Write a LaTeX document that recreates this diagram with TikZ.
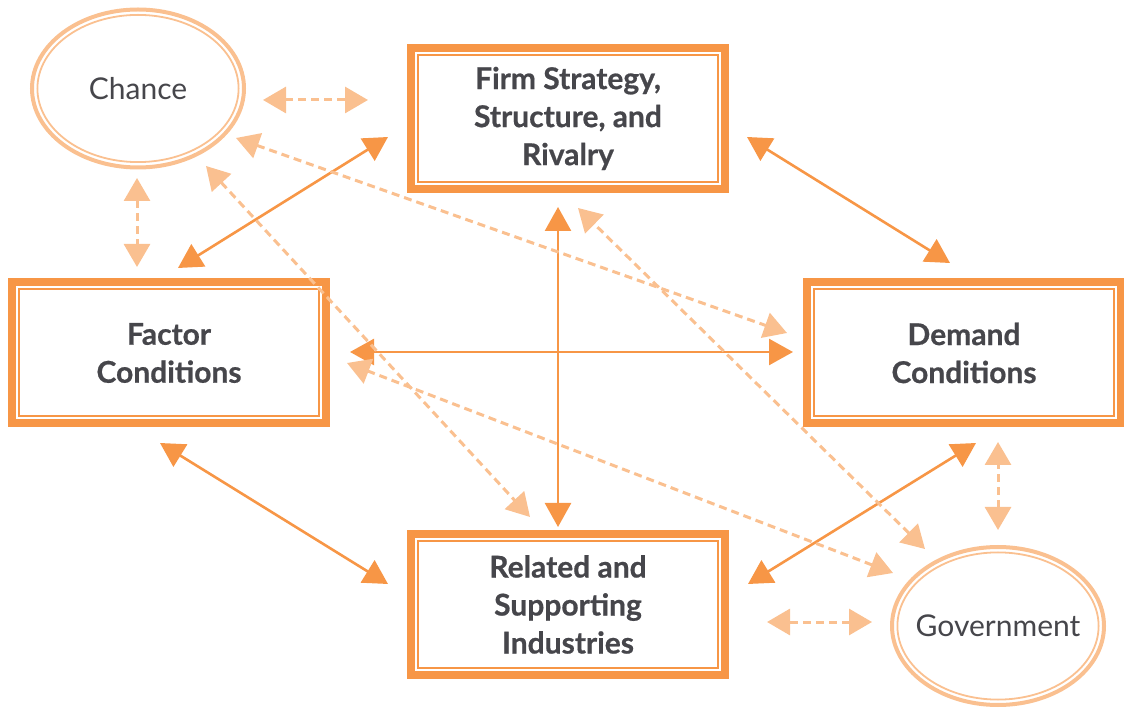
\documentclass[tikz,border=0pt]{standalone}
\usepackage{fontspec}
\setmainfont{Lato}
\newfontfamily\forcefont[BoldFeatures={FakeBold=0.6}]{Lato}
\usetikzlibrary{arrows.meta,shapes.geometric}
\definecolor{porange}{HTML}{F79646}
\definecolor{plight}{HTML}{FAC090}
\definecolor{ptext}{HTML}{46464B}
\tikzset{
	force/.style={draw=porange, line width=4pt, fill=white, minimum width=157pt, minimum height=70.5pt, align=center, text=ptext, font=\forcefont\bfseries\fontsize{15}{19}\selectfont},
	outside/.style={text=ptext, font=\fontsize{15}{17}\selectfont},
	link/.style={draw=porange, line width=1.3pt, {Triangle[length=12pt,width=13pt]}-{Triangle[length=12pt,width=13pt]}},
	weak/.style={draw=plight, line width=1.5pt, dash pattern=on 4pt off 2.5pt, {Triangle[length=11.5pt,width=13pt]}-{Triangle[length=11.5pt,width=13pt]}}
}
\begin{document}
\begin{tikzpicture}[x=0.5pt,y=-0.5pt]
		\useasboundingbox (0,0) rectangle (1124,710);
		\node[force] (firm) at (568,118.5) {Firm Strategy,\\Structure, and\\Rivalry};
		\node[force] (factor) at (169,353) {Factor\\Conditions};
		\node[force] (demand) at (964,353) {Demand\\Conditions};
		\node[force] (related) at (568,604.5) {Related and\\Supporting\\Industries};
		\node[outside] (chance) at (138,88.5) {Chance};
		\node[outside] (gov) at (998,626) {Government};
		\foreach \n in {firm,factor,demand,related}
			\draw[porange, line width=1pt] ([shift={(5.5pt,5.5pt)}]\n.south west) rectangle ([shift={(-5.5pt,-5.5pt)}]\n.north east);
		\foreach \n in {chance,gov} {
			\draw[plight, line width=2pt] (\n.center) ellipse (53pt and 39.5pt);
			\draw[plight, line width=0.9pt] (\n.center) ellipse (50.3pt and 36.8pt);
		}
		\coordinate (fd1) at (747,137);
		\coordinate (fd2) at (950,263);
		\coordinate (ff1) at (388,137);
		\coordinate (ff2) at (178,268);
		\coordinate (fr1) at (558,207);
		\coordinate (fr2) at (558,527);
		\coordinate (cd1) at (350,352);
		\coordinate (cd2) at (793,352);
		\coordinate (cr1) at (160,443);
		\coordinate (cr2) at (388,584);
		\coordinate (dr1) at (976,443);
		\coordinate (dr2) at (748,584);
		\draw[link] (fd1) -- (fd2);
		\draw[link] (ff1) -- (ff2);
		\draw[link] (fr1) -- (fr2);
		\draw[link] (cd1) -- (cd2);
		\draw[link] (cr1) -- (cr2);
		\draw[link] (dr1) -- (dr2);
		\coordinate (chf1) at (263,100);
		\coordinate (chf2) at (368,100);
		\coordinate (chc1) at (137,178);
		\coordinate (chc2) at (137,267);
		\coordinate (chd1) at (236,138);
		\coordinate (chd2) at (787,333);
		\coordinate (chr1) at (206,166);
		\coordinate (chr2) at (530,517);
		\coordinate (gr1) at (872,622);
		\coordinate (gr2) at (767,622);
		\coordinate (gd1) at (998,530);
		\coordinate (gd2) at (998,442);
		\coordinate (gf1) at (925,549);
		\coordinate (gf2) at (578,208);
		\coordinate (gc1) at (893,573);
		\coordinate (gc2) at (347,363);
		\draw[weak] (chf1) -- (chf2);
		\draw[weak] (chc1) -- (chc2);
		\draw[weak] (chd1) -- (chd2);
		\draw[weak] (chr1) -- (chr2);
		\draw[weak] (gr1) -- (gr2);
		\draw[weak] (gd1) -- (gd2);
		\draw[weak] (gf1) -- (gf2);
		\draw[weak] (gc1) -- (gc2);
	\end{tikzpicture}
\end{document}
